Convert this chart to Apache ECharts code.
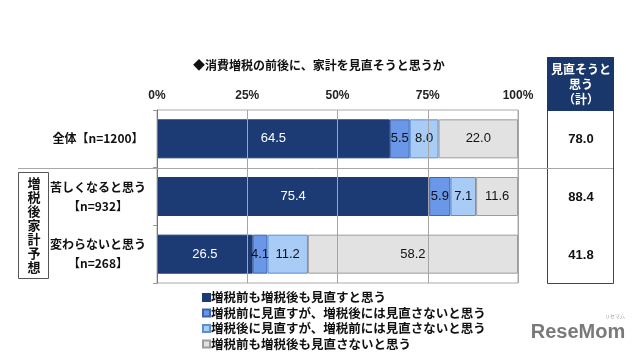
<!DOCTYPE html>
<html>
<head>
<meta charset="utf-8">
<script src="https://cdn.jsdelivr.net/npm/echarts@6/dist/echarts.min.js"></script>
<style>
html,body{margin:0;padding:0;background:#fff;}
#main{width:640px;height:360px;}
</style>
</head>
<body>
<div id="main"></div>
<script>
// ---- data ----
var titleText = '◆消費増税の前後に、家計を見直そうと思うか';
var categories = ['全体【n=1200】', '苦しくなると思う\n【n=932】', '変わらないと思う\n【n=268】'];
var seriesNames = [
  '増税前も増税後も見直すと思う',
  '増税前に見直すが、増税後には見直さないと思う',
  '増税後に見直すが、増税前には見直さないと思う',
  '増税前も増税後も見直さないと思う'
];
var bothReview = [64.5, 75.4, 26.5];
var beforeOnly = [5.5, 5.9, 4.1];
var afterOnly = [8.0, 7.1, 11.2];
var neither = [22.0, 11.6, 58.2];
var totalHeader = '見直そうと\n思う\n（計）';
var totals = [78.0, 88.4, 41.8];
var groupLabel = '増税後家計予想';
var xTicks = [0, 25, 50, 75, 100];

var JP = '"Noto Sans CJK JP", "Noto Sans", sans-serif';
var NUM = '"Liberation Sans", Arial, sans-serif';

var colors = ['#1c3a73', '#6b97e8', '#a8ccf6', '#e2e2e2'];
var borders = ['#1c3a73', '#3e64aa', '#5b8fd0', '#9c9c9c'];
var labelColors = ['#ffffff', '#111111', '#111111', '#111111'];
var dataSets = [bothReview, beforeOnly, afterOnly, neither];

var chart = echarts.init(document.getElementById('main'), null, {renderer: 'canvas'});

var series = seriesNames.map(function (name, i) {
  return {
    name: name,
    type: 'bar',
    stack: 'total',
    barWidth: 39,
    data: dataSets[i],
    itemStyle: {color: colors[i], borderColor: borders[i], borderWidth: 1},
    label: {
      show: true,
      position: 'inside',
      fontFamily: NUM,
      fontSize: 13,
      color: labelColors[i],
      formatter: function (p) { return p.value.toFixed(1); }
    },
    emphasis: {disabled: true}
  };
});

chart.setOption({
  animation: false,
  backgroundColor: '#ffffff',
  title: {
    text: titleText,
    left: 188,
    top: 54,
    textStyle: {fontFamily: JP, fontSize: 12, fontWeight: 'bold', color: '#111'}
  },
  legend: {
    orient: 'vertical',
    left: 197,
    top: 286,
    itemWidth: 7,
    itemHeight: 7,
    itemGap: 2.5,
    icon: 'rect',
    selectedMode: false,
    textStyle: {fontFamily: JP, fontSize: 12.5, fontWeight: 'bold', color: '#111', lineHeight: 13, padding: [0, 0, 0, -4]},
    data: seriesNames
  },
  grid: {
    left: 157, top: 110, width: 361, height: 173,
    show: true, borderColor: '#aaaaaa', borderWidth: 1,
    containLabel: false
  },
  xAxis: {
    type: 'value',
    position: 'top',
    min: 0, max: 100, interval: 25,
    z: 10,
    axisLine: {show: false},
    axisTick: {show: false},
    axisLabel: {
      formatter: '{value}%',
      fontFamily: NUM, fontSize: 12, fontWeight: 'bold', color: '#222', margin: 8
    },
    splitLine: {show: true, lineStyle: {color: '#a5a5a5', width: 1}}
  },
  yAxis: {
    type: 'category',
    inverse: true,
    data: categories,
    z: 10,
    axisLine: {show: true, lineStyle: {color: '#777'}},
    axisTick: {show: true, length: 4, lineStyle: {color: '#999'}},
    axisLabel: {
      align: 'center',
      margin: 59,
      fontFamily: JP, fontSize: 12, fontWeight: 'bold', color: '#111', lineHeight: 19
    }
  },
  series: series
});

// ---- decorations tied to axis positions ----
var ys = categories.map(function (c, i) { return chart.convertToPixel({yAxisIndex: 0}, i); });
var sepY = Math.round((ys[0] + ys[1]) / 2) + 0.5;
var gridRect = chart.getModel().getComponent('grid', 0).coordinateSystem.getRect();
var plotTopY = gridRect.y, plotBottomY = gridRect.y + gridRect.height;
var tL = 547, tR = 613, tTop = 57, hBottom = plotTopY;

var graphics = [];
// separator line
graphics.push({type: 'line', z: 50, shape: {x1: 18, y1: sepY, x2: tR, y2: sepY}, style: {stroke: '#a8a8a8', lineWidth: 1}});
// table
graphics.push({type: 'rect', z: 40, shape: {x: tL + 0.5, y: tTop + 0.5, width: tR - tL, height: plotBottomY - tTop}, style: {fill: '#fff', stroke: '#2c4a6a', lineWidth: 1}});
graphics.push({type: 'rect', z: 41, shape: {x: tL + 0.5, y: tTop + 0.5, width: tR - tL, height: hBottom - tTop}, style: {fill: '#1a376c', stroke: '#1a376c', lineWidth: 1}});
graphics.push({type: 'text', z: 42, style: {text: totalHeader, x: (tL + tR) / 2 + 1, y: (tTop + hBottom) / 2 + 1, align: 'center', verticalAlign: 'middle', fill: '#fff', font: 'bold 12px ' + JP, lineHeight: 15}});
totals.forEach(function (v, i) {
  graphics.push({type: 'text', z: 42, style: {text: v.toFixed(1), x: (tL + tR) / 2 + 1, y: ys[i] + 1, align: 'center', verticalAlign: 'middle', fill: '#111', font: 'bold 13px ' + NUM}});
});
// group box
var gTop = sepY + 3, gBot = plotBottomY - 6;
graphics.push({type: 'rect', z: 40, shape: {x: 18.5, y: Math.round(gTop) + 0.5, width: 30, height: Math.round(gBot - gTop)}, style: {fill: 'none', stroke: '#555', lineWidth: 1}});
graphics.push({type: 'text', z: 42, style: {text: groupLabel.split('').join('\n'), x: 34, y: (gTop + gBot) / 2 + 1, align: 'center', verticalAlign: 'middle', fill: '#111', font: 'bold 13px ' + JP, lineHeight: 14}});
// watermark
graphics.push({type: 'text', z: 42, style: {text: 'ReseMom', x: 578, y: 332, align: 'center', verticalAlign: 'middle', fill: '#7a7a7a', font: 'bold 20px ' + NUM}});
graphics.push({type: 'text', z: 42, style: {text: 'リセマム', x: 615, y: 316, align: 'center', verticalAlign: 'middle', fill: '#999', font: '5px ' + JP}});

chart.setOption({graphic: graphics});
</script>
</body>
</html>
